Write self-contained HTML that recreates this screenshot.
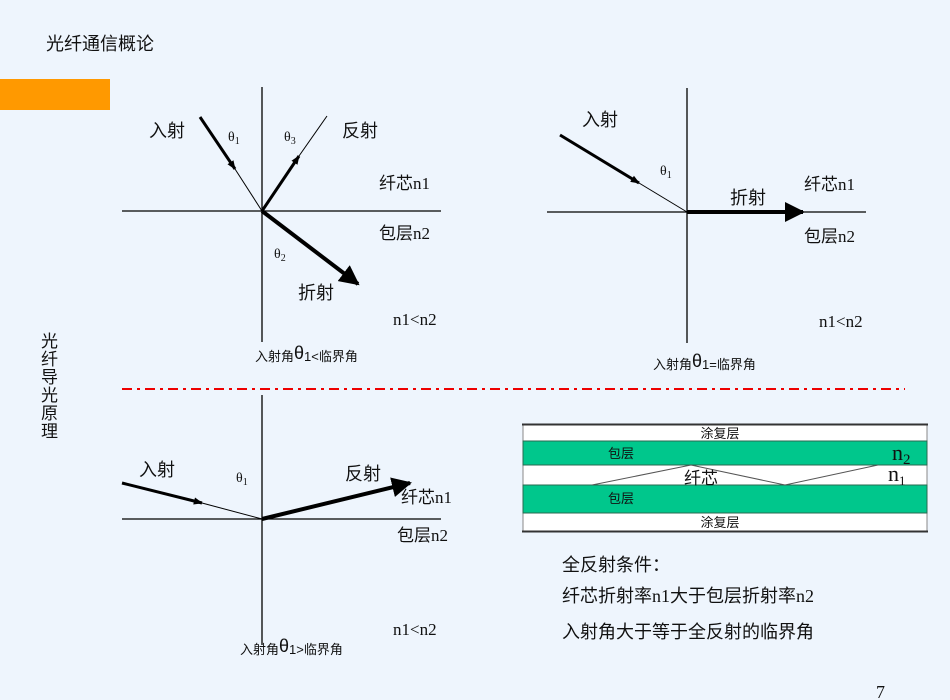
<!DOCTYPE html>
<html><head><meta charset="utf-8"><style>
html,body{margin:0;padding:0;background:#eef5fd;}
svg{display:block;}
text{font-family:"Liberation Serif","Noto Sans CJK SC",serif;fill:#111;}
.s{font-family:"Liberation Sans","Noto Sans CJK SC",sans-serif;}
</style></head><body>
<svg width="950" height="700" viewBox="0 0 950 700" xmlns="http://www.w3.org/2000/svg">
<defs>
<marker id="ah" viewBox="0 0 10 10" refX="9" refY="5" markerWidth="5" markerHeight="5" orient="auto" markerUnits="strokeWidth"><path d="M0,0 L10,5 L0,10 z" fill="#000"/></marker>
<marker id="ahs" viewBox="0 0 10 10" refX="9" refY="5" markerWidth="11" markerHeight="9" orient="auto" markerUnits="userSpaceOnUse"><path d="M0,1 L10,5 L0,9 z" fill="#000"/></marker>
</defs>
<rect width="950" height="700" fill="#eef5fd"/>
<text x="46" y="50" font-size="18" class="s" fill="#222">光纤通信概论</text>
<rect x="0" y="79" width="110" height="31" fill="#ff9900"/>
<g font-size="17">
<text x="41" y="347" class="s">光</text><text x="41" y="365" class="s">纤</text><text x="41" y="383" class="s">导</text><text x="41" y="401" class="s">光</text><text x="41" y="419" class="s">原</text><text x="41" y="437" class="s">理</text>
</g>

<!-- Diagram 1 -->
<g stroke="#000" fill="none">
<line x1="262" y1="87" x2="262" y2="342" stroke-width="1.3"/>
<line x1="122" y1="211" x2="441" y2="211" stroke-width="1.3"/>
<line x1="200" y1="117" x2="235" y2="169" stroke-width="3" marker-end="url(#ahs)"/>
<line x1="235" y1="169" x2="262" y2="211" stroke-width="1"/>
<line x1="262" y1="211" x2="299" y2="156" stroke-width="3" marker-end="url(#ahs)"/>
<line x1="299" y1="156" x2="327" y2="116" stroke-width="1"/>
<line x1="262" y1="211" x2="358" y2="284" stroke-width="4" marker-end="url(#ah)"/>
</g>
<text x="149" y="137" font-size="18" class="s">入射</text>
<text x="228" y="141" font-size="14">θ<tspan font-size="10" dy="3">1</tspan></text>
<text x="284" y="141" font-size="14">θ<tspan font-size="10" dy="3">3</tspan></text>
<text x="342" y="137" font-size="18" class="s">反射</text>
<text x="379" y="189" font-size="17">纤芯n1</text>
<text x="379" y="239" font-size="17">包层n2</text>
<text x="274" y="258" font-size="14">θ<tspan font-size="10" dy="3">2</tspan></text>
<text x="298" y="299" font-size="18" class="s">折射</text>
<text x="393" y="325" font-size="17">n1&lt;n2</text>
<text x="255" y="361" font-size="13" class="s">入射角<tspan font-size="18" dy="-2">θ</tspan><tspan dy="2">1&lt;临界角</tspan></text>

<!-- Diagram 2 -->
<g stroke="#000" fill="none">
<line x1="687" y1="88" x2="687" y2="343" stroke-width="1.3"/>
<line x1="547" y1="212" x2="866" y2="212" stroke-width="1.3"/>
<line x1="560" y1="135" x2="639" y2="183" stroke-width="3" marker-end="url(#ahs)"/>
<line x1="639" y1="183" x2="687" y2="212" stroke-width="1"/>
<line x1="687" y1="212" x2="803" y2="212" stroke-width="4" marker-end="url(#ah)"/>
</g>
<text x="582" y="126" font-size="18" class="s">入射</text>
<text x="660" y="175" font-size="14">θ<tspan font-size="10" dy="3">1</tspan></text>
<text x="730" y="204" font-size="18" class="s">折射</text>
<text x="804" y="190" font-size="17">纤芯n1</text>
<text x="804" y="242" font-size="17">包层n2</text>
<text x="819" y="327" font-size="17">n1&lt;n2</text>
<text x="653" y="369" font-size="13" class="s">入射角<tspan font-size="18" dy="-2">θ</tspan><tspan dy="2">1=临界角</tspan></text>

<!-- dashed red -->
<line x1="122" y1="389" x2="905" y2="389" stroke="#e00" stroke-width="2" stroke-dasharray="10,5,3,5"/>

<!-- Diagram 3 -->
<g stroke="#000" fill="none">
<line x1="262" y1="395" x2="262" y2="645" stroke-width="1.3"/>
<line x1="122" y1="519" x2="441" y2="519" stroke-width="1.3"/>
<line x1="122" y1="483" x2="202" y2="503" stroke-width="3" marker-end="url(#ahs)"/>
<line x1="202" y1="503" x2="262" y2="519" stroke-width="1"/>
<line x1="262" y1="519" x2="410" y2="483" stroke-width="4" marker-end="url(#ah)"/>
</g>
<text x="139" y="476" font-size="18" class="s">入射</text>
<text x="236" y="482" font-size="14">θ<tspan font-size="10" dy="3">1</tspan></text>
<text x="345" y="480" font-size="18" class="s">反射</text>
<text x="401" y="503" font-size="17">纤芯n1</text>
<text x="397" y="541" font-size="17">包层n2</text>
<text x="393" y="635" font-size="17">n1&lt;n2</text>
<text x="240" y="654" font-size="13" class="s">入射角<tspan font-size="18" dy="-2">θ</tspan><tspan dy="2">1&gt;临界角</tspan></text>

<!-- Fiber figure -->
<rect x="523" y="425" width="404" height="106" fill="#fff" stroke="#888" stroke-width="1"/>
<rect x="523" y="441" width="404" height="24" fill="#00c78c" stroke="#2a6a50" stroke-width="1"/>
<rect x="523" y="485" width="404" height="28" fill="#00c78c" stroke="#2a6a50" stroke-width="1"/>
<line x1="522" y1="424.5" x2="928" y2="424.5" stroke="#333" stroke-width="2"/>
<line x1="522" y1="531.5" x2="928" y2="531.5" stroke="#333" stroke-width="2"/>
<polyline points="592,485 691,465 785,485 878,465" fill="none" stroke="#555" stroke-width="1"/>
<text x="720" y="438" font-size="13" text-anchor="middle">涂复层</text>
<text x="608" y="458" font-size="13">包层</text>
<text x="701" y="484" font-size="17" text-anchor="middle" fill="#666">纤芯</text>
<text x="608" y="503" font-size="13">包层</text>
<text x="720" y="527" font-size="13" text-anchor="middle">涂复层</text>
<text x="892" y="460" font-size="22">n<tspan font-size="15" dy="4">2</tspan></text>
<text x="888" y="481" font-size="22">n<tspan font-size="13" dy="4">1</tspan></text>

<text x="562" y="571" font-size="18">全反射条件：</text>
<text x="562" y="602" font-size="18">纤芯折射率n1大于包层折射率n2</text>
<text x="562" y="638" font-size="18">入射角大于等于全反射的临界角</text>
<text x="876" y="698" font-size="18">7</text>
</svg>
</body></html>
